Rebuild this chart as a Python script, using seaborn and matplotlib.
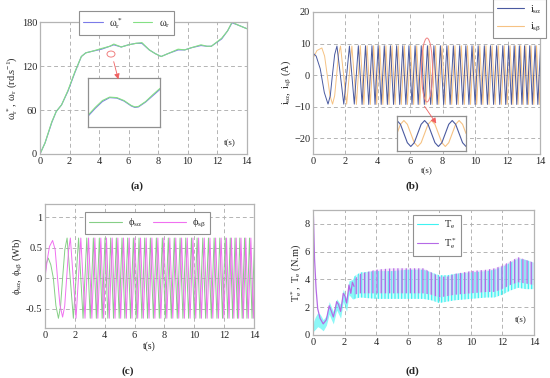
import numpy as np
import seaborn as sns
import matplotlib.pyplot as plt
from matplotlib.patches import Ellipse, FancyArrowPatch
from matplotlib.lines import Line2D

# (a) vitesse
w_t = [0, 0.34, 0.8, 1.1, 1.46, 1.9, 2.36, 2.8, 3.1, 3.5, 4.17, 4.73, 5.0, 5.5, 6.0, 6.5, 6.9, 7.4,
       7.8, 8.2, 8.67, 9.35, 9.8, 10.25, 10.9, 11.3, 11.6, 12.3, 12.7, 13.0, 13.4, 14.0]
w_r = [0, 15, 44, 58, 67, 87, 112, 133, 138, 140, 144, 147, 150, 146, 149, 151, 152, 142,
       137, 133, 137, 143, 142, 145, 149, 147, 147, 158, 168, 180, 176, 171]
w_ref = [0, 15, 43, 58, 67, 86, 111, 133, 138, 140, 143, 147, 149, 146, 149, 151, 151, 142,
         137, 133, 137, 142, 142, 145, 148, 147, 147, 157, 168, 179, 176, 171]
# zoom de (a)
zw_x = [0, 0.1, 0.2, 0.3, 0.4, 0.5, 0.6, 0.65, 0.7, 0.8, 0.9, 1.0]
zw_r = [0.24, 0.40, 0.54, 0.61, 0.60, 0.54, 0.44, 0.41, 0.42, 0.52, 0.66, 0.79]
zw_ref = [0.22, 0.38, 0.52, 0.60, 0.59, 0.53, 0.43, 0.40, 0.41, 0.51, 0.64, 0.77]

# (b) courants : debut puis extremums
ia_t0 = [0, 0.2, 0.45, 0.7, 0.93, 1.07, 1.2, 1.34, 1.48, 1.69, 1.9, 2.08, 2.25, 2.40, 2.55]
ia_v0 = [7, 6, 2, -5.5, -9.2, -6.5, 0, 6.5, 9.2, 0, -9.2, 0, 9.2, 0, -9.2]
ib_t0 = [0, 0.25, 0.55, 0.72, 0.88, 1.05, 1.21, 1.34, 1.46, 1.58, 1.70, 1.89, 2.08, 2.24, 2.40]
ib_v0 = [5.3, 7.8, 8.6, 6, 0, -6.5, -9.2, -6.5, 0, 6.5, 9.2, 0, -9.2, 0, 9.2]
# instants des extremums (alpha commence par +, beta par -)
ext_a = [2.80, 3.03, 3.24, 3.44, 3.64, 3.83, 4.02, 4.21, 4.40, 4.59, 4.78, 4.97, 5.16, 5.35, 5.54,
         5.73, 5.92, 6.11, 6.30, 6.49, 6.68, 6.87, 7.06, 7.26, 7.46, 7.66, 7.86, 8.06, 8.26, 8.46,
         8.66, 8.86, 9.05, 9.24, 9.43, 9.62, 9.81, 10.00, 10.19, 10.38, 10.57, 10.76, 10.95, 11.14,
         11.33, 11.52, 11.71, 11.89, 12.07, 12.24, 12.41, 12.57, 12.73, 12.89, 13.05, 13.21, 13.37,
         13.53, 13.70, 13.87, 14.04]
ext_b = [2.68, 2.92, 3.14, 3.34, 3.54, 3.74, 3.93, 4.12, 4.31, 4.50, 4.69, 4.88, 5.07, 5.26, 5.45,
         5.64, 5.83, 6.02, 6.21, 6.40, 6.59, 6.78, 6.97, 7.16, 7.36, 7.56, 7.76, 7.96, 8.16, 8.36,
         8.56, 8.76, 8.96, 9.15, 9.34, 9.53, 9.72, 9.91, 10.10, 10.29, 10.48, 10.67, 10.86, 11.05,
         11.24, 11.43, 11.62, 11.80, 11.98, 12.16, 12.33, 12.49, 12.65, 12.81, 12.97, 13.13, 13.29,
         13.45, 13.62, 13.79, 13.96, 14.1]
i_amp = 9.3
# zoom de (b)
zi_x = [0, 0.05, 0.1, 0.15, 0.2, 0.25, 0.3, 0.35, 0.4, 0.45, 0.5, 0.55, 0.6, 0.65, 0.7, 0.75,
        0.8, 0.85, 0.9, 0.95, 1.0]
zi_a = [1, 0.71, 0, -0.71, -1, -0.71, 0, 0.71, 1, 0.71, 0, -0.71, -1, -0.71, 0, 0.71, 1, 0.71,
        0, -0.71, -1]
zi_b = [0, 0.71, 1, 0.71, 0, -0.71, -1, -0.71, 0, 0.71, 1, 0.71, 0, -0.71, -1, -0.71, 0, 0.71,
        1, 0.71, 0]

# (c) flux
fa_t0 = [0, 0.1, 0.22, 0.39, 0.56, 0.73, 0.9, 1.04, 1.18, 1.33, 1.48, 1.69, 1.9, 2.08, 2.25, 2.40, 2.55]
fa_v0 = [0.04, 0.25, 0.33, 0.22, 0, -0.45, -0.66, -0.47, 0, 0.47, 0.66, 0, -0.66, 0, 0.66, 0, -0.66]
fb_t0 = [0, 0.15, 0.3, 0.51, 0.68, 0.84, 1.0, 1.18, 1.32, 1.45, 1.58, 1.70, 1.89, 2.08, 2.24, 2.40]
fb_v0 = [0, 0.3, 0.52, 0.62, 0.47, 0, -0.44, -0.64, -0.46, 0, 0.46, 0.66, 0, -0.66, 0, 0.66]
f_amp = 0.66

# (d) couple
tr_t0 = [0, 0.03, 0.1, 0.2, 0.3, 0.45, 0.65, 0.85, 1.03, 1.17, 1.29, 1.4, 1.5, 1.62, 1.75, 1.85,
         1.92, 2.03, 2.13, 2.22, 2.28, 2.4, 2.5, 2.6]
tr_v0 = [9.0, 8.6, 5.5, 3.3, 1.9, 1.2, 0.8, 1.1, 2.1, 1.7, 1.3, 1.8, 2.4, 2.2, 1.7, 2.4,
         3.0, 2.8, 2.3, 3.0, 3.6, 3.0, 3.8, 3.5]
te_t0 = [0, 0.05, 0.15, 0.3, 0.45, 0.65, 0.85, 1.03, 1.17, 1.29, 1.5, 1.75, 1.92, 2.13, 2.28, 2.5, 2.6]
te_lo0 = [0, 0.3, 0.4, 0.6, 0.5, 0.3, 0.7, 1.5, 1.1, 0.8, 1.8, 1.2, 2.4, 1.7, 2.9, 2.6, 2.6]
te_hi0 = [0.2, 1.0, 1.3, 1.6, 1.5, 1.1, 1.4, 2.4, 2.0, 1.7, 2.6, 2.2, 3.3, 2.6, 3.9, 4.0, 4.2]
band_t = [2.6, 3, 4, 5, 6, 7, 7.5, 8, 8.5, 9, 10, 11, 11.5, 12, 12.5, 13, 13.5, 14]
te_lo = [2.6, 2.7, 2.6, 2.6, 2.6, 2.6, 2.5, 2.3, 2.4, 2.5, 2.6, 2.7, 2.7, 2.9, 3.2, 3.4, 3.3, 3.3]
te_hi = [4.2, 4.5, 4.6, 4.6, 4.7, 4.7, 4.5, 4.3, 4.3, 4.4, 4.5, 4.6, 4.7, 4.9, 5.2, 5.5, 5.4, 5.2]
tr_lo = [2.9, 3.0, 3.0, 3.0, 3.0, 3.0, 2.9, 2.7, 2.8, 2.9, 3.0, 3.1, 3.1, 3.3, 3.6, 3.8, 3.7, 3.6]
tr_hi = [4.0, 4.4, 4.7, 4.8, 4.8, 4.8, 4.5, 4.2, 4.2, 4.4, 4.6, 4.7, 4.8, 5.0, 5.3, 5.6, 5.4, 5.2]

C_BLUE = '#7b7be8'
C_GREEN = '#84e084'
C_IA = '#4a5aa0'
C_IB = '#f6c283'
C_FA = '#86cf86'
C_FB = '#f070f0'
C_TE = '#3ff2f2'
C_TR = '#b56ae6'
GRID = '#b4b4b4'

sns.set_theme(style='white')
plt.rcParams['font.family'] = ['Liberation Serif', 'DejaVu Serif']
plt.rcParams['mathtext.fontset'] = 'custom'
plt.rcParams['mathtext.rm'] = 'Liberation Serif'
plt.rcParams['mathtext.it'] = 'Liberation Serif'
plt.rcParams['mathtext.default'] = 'regular'
plt.rcParams['hatch.linewidth'] = 0.9


def zigzag(t0, v0, ext, amp, first_sign):
    s = np.resize([first_sign, -first_sign], len(ext))
    return np.concatenate([t0, ext]), np.concatenate([v0, s * amp])


def style(ax, xticks, yticks, xlim, ylim):
    ax.set_xlim(xlim)
    ax.set_ylim(ylim)
    ax.set_xticks(xticks)
    ax.set_yticks(yticks)
    ax.grid(True, color=GRID, linestyle=(0, (4, 3)), linewidth=0.7)
    for sp in ax.spines.values():
        sp.set_color(GRID)
        sp.set_linewidth(0.9)
    ax.tick_params(labelsize=7.5, length=2, direction='in', color=GRID, pad=2)


def leg(ax, handles, labels, pos, ncol=1, hl=2.0):
    lg = ax.legend(handles, labels, loc='center', bbox_to_anchor=pos, bbox_transform=fig.transFigure,
                   ncol=ncol, fontsize=7.5, frameon=True, fancybox=False, framealpha=1,
                   edgecolor='#909090', handlelength=hl, borderpad=0.4, columnspacing=1.0,
                   handletextpad=0.6, labelspacing=0.5)
    lg.get_frame().set_linewidth(0.8)
    return lg


fig = plt.figure(figsize=(5.5, 3.78), dpi=100)

# ---------- (a)
ax1 = fig.add_axes([0.0727, 0.5926, 0.376, 0.349])
sns.lineplot(x=w_t, y=w_ref, ax=ax1, color=C_BLUE, lw=0.8, estimator=None)
sns.lineplot(x=w_t, y=w_r, ax=ax1, color=C_GREEN, lw=0.8, estimator=None)
style(ax1, range(0, 15, 2), [0, 60, 120, 180], (0, 14), (0, 180))
ax1.set_ylabel(r'$\omega_r^*,\ \omega_r$ (rd.s$^{-1}$)', fontsize=7.5, labelpad=1)
ax1.text(0.92, 0.07, 't(s)', transform=ax1.transAxes, fontsize=6.5, ha='center')
leg(ax1, [Line2D([], [], color=C_BLUE, lw=0.8), Line2D([], [], color=C_GREEN, lw=0.8)],
    [r'$\omega_r^*$', r'$\omega_r$'], (0.23, 0.939), ncol=2, hl=1.9)

ins1 = fig.add_axes([0.16, 0.664, 0.131, 0.1296])
sns.lineplot(x=zw_x, y=zw_ref, ax=ins1, color=C_BLUE, lw=0.8, estimator=None)
sns.lineplot(x=zw_x, y=zw_r, ax=ins1, color=C_GREEN, lw=0.8, estimator=None)
ins1.set_xlim(0, 1)
ins1.set_ylim(0, 1)
ins1.set_xticks([])
ins1.set_yticks([])
ins1.set_facecolor('white')
for sp in ins1.spines.values():
    sp.set_color('#909090')
    sp.set_linewidth(0.9)

# ---------- (b)
ax2 = fig.add_axes([0.569, 0.5926, 0.4127, 0.3757])
ta, ya = zigzag(ia_t0, ia_v0, ext_a, i_amp, 1)
tb, yb = zigzag(ib_t0, ib_v0, ext_b, i_amp, -1)
sns.lineplot(x=tb, y=yb, ax=ax2, color=C_IB, lw=0.7, estimator=None, sort=False)
sns.lineplot(x=ta, y=ya, ax=ax2, color=C_IA, lw=0.7, estimator=None, sort=False)
style(ax2, range(0, 15, 2), [-20, -10, 0, 10, 20], (0, 14), (-25, 20))
ax2.set_ylabel(r'$i_{s\alpha},\ i_{s\beta}$ (A)', fontsize=7.5, labelpad=1)
ax2.set_xlabel('t(s)', fontsize=6.5, labelpad=1)
leg(ax2, [Line2D([], [], color=C_IA, lw=0.8), Line2D([], [], color=C_IB, lw=0.8)],
    [r'$i_{s\alpha}$', r'$i_{s\beta}$'], (0.9445, 0.951), hl=2.6)

ins2 = fig.add_axes([0.7218, 0.6005, 0.1255, 0.0926])
sns.lineplot(x=zi_x, y=zi_b, ax=ins2, color=C_IB, lw=0.8, estimator=None)
sns.lineplot(x=zi_x, y=zi_a, ax=ins2, color=C_IA, lw=0.8, estimator=None)
ins2.set_xlim(0, 1)
ins2.set_ylim(-1.35, 1.35)
ins2.set_xticks([])
ins2.set_yticks([])
ins2.set_facecolor('white')
for sp in ins2.spines.values():
    sp.set_color('#909090')
    sp.set_linewidth(0.9)

# ---------- (c)
ax3 = fig.add_axes([0.0818, 0.1323, 0.38, 0.328])
fa_t, fa_y = zigzag(fa_t0, fa_v0, ext_a, f_amp, 1)
fb_t, fb_y = zigzag(fb_t0, fb_v0, ext_b, f_amp, -1)
sns.lineplot(x=fa_t, y=fa_y, ax=ax3, color=C_FA, lw=0.7, estimator=None, sort=False)
sns.lineplot(x=fb_t, y=fb_y, ax=ax3, color=C_FB, lw=0.7, estimator=None, sort=False)
style(ax3, range(0, 15, 2), [-0.5, 0, 0.5, 1], (0, 14), (-0.82, 1.22))
ax3.set_yticklabels(['-0.5', '0', '0.5', '1'])
ax3.set_ylabel(r'$\phi_{s\alpha},\ \phi_{s\beta}$ (Wb)', fontsize=7.5, labelpad=1)
ax3.set_xlabel('t(s)', fontsize=7, labelpad=1)
leg(ax3, [Line2D([], [], color=C_FA, lw=0.8), Line2D([], [], color=C_FB, lw=0.8)],
    [r'$\phi_{s\alpha}$', r'$\phi_{s\beta}$'], (0.268, 0.41), ncol=2, hl=3.2)

# ---------- (d)
ax4 = fig.add_axes([0.569, 0.1138, 0.4018, 0.3307])
ax4.fill_between(te_t0, te_lo0, te_hi0, color=C_TE, alpha=0.6, lw=0)
ax4.fill_between(band_t, te_lo, te_hi, facecolor=(0.25, 0.95, 0.95, 0.25), lw=0, hatch='|||||', edgecolor=C_TE)
ax4.fill_between(band_t, tr_lo, tr_hi, facecolor=(0.85, 0.7, 0.95, 0.3), lw=0, hatch='||||', edgecolor=C_TR)
sns.lineplot(x=tr_t0, y=tr_v0, ax=ax4, color=C_TR, lw=0.9, estimator=None)
style(ax4, range(0, 15, 2), [0, 2, 4, 6, 8], (0, 14), (0, 9))
ax4.set_ylabel(r'$T_e^*,\ T_e$ (N.m)', fontsize=7.5, labelpad=1)
ax4.text(0.94, 0.1, 't(s)', transform=ax4.transAxes, fontsize=6.5, ha='center')
leg(ax4, [Line2D([], [], color=C_TE, lw=0.8), Line2D([], [], color=C_TR, lw=0.8)],
    [r'$T_e$', r'$T_e^*$'], (0.795, 0.378), hl=2.0)

# loupes rouges
fig.add_artist(Ellipse((0.2018, 0.857), 0.0145, 0.0159, transform=fig.transFigure,
                       fill=False, edgecolor='#f08080', lw=0.7))
fig.add_artist(FancyArrowPatch((0.2055, 0.844), (0.2164, 0.783), transform=fig.transFigure,
                               arrowstyle='-|>', mutation_scale=8, color='#f06060', lw=0.6))
fig.add_artist(Ellipse((0.7764, 0.8148), 0.02, 0.169, transform=fig.transFigure,
                       fill=False, edgecolor='#f08080', lw=0.7))
fig.add_artist(FancyArrowPatch((0.769, 0.725), (0.796, 0.667), transform=fig.transFigure,
                               arrowstyle='-|>', mutation_scale=8, color='#f06060', lw=0.6))

for x, y, s in [(0.249, 0.508, '(a)'), (0.749, 0.508, '(b)'), (0.233, 0.0185, '(c)'), (0.749, 0.0185, '(d)')]:
    fig.text(x, y, s, ha='center', va='center', fontsize=8, fontweight='bold')

fig.savefig('out.png', dpi=100)
